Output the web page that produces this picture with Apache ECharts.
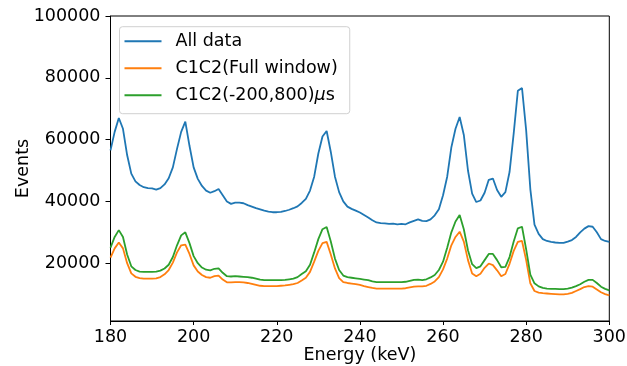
<!DOCTYPE html>
<html>
<head>
<meta charset="utf-8">
<script src="https://cdn.jsdelivr.net/npm/echarts@6/dist/echarts.min.js"></script>
<style>
html,body{margin:0;padding:0;background:#fff;}
#c{width:627px;height:366px;}
</style>
</head>
<body>
<div id="c"></div>
<script>
const energy = [180,181,182,183,184,185,186,187,188,189,190,191,192,193,194,195,196,197,198,199,
200,201,202,203,204,205,206,207,208,209,210,211,212,213,214,215,216,217,218,219,
220,221,222,223,224,225,226,227,228,229,230,231,232,233,234,235,236,237,238,239,
240,241,242,243,244,245,246,247,248,249,250,251,252,253,254,255,256,257,258,259,
260,261,262,263,264,265,266,267,268,269,270,271,272,273,274,275,276,277,278,279,
280,281,282,283,284,285,286,287,288,289,290,291,292,293,294,295,296,297,298,299,300];

const allData = [56500,62500,67000,63500,55000,49000,46500,45300,44600,44300,44200,43800,44300,45500,47500,51000,57000,62500,65800,58000,
51000,47300,45000,43500,42800,43300,44000,42000,40000,39200,39600,39600,39400,38800,38300,37800,37400,37000,36700,36500,
36500,36600,36900,37300,37800,38400,39500,40800,43500,48000,55500,61000,62800,56000,48000,43000,40000,38300,37600,37000,
36400,35600,34800,33900,33200,33000,32900,32700,32800,32600,32700,32600,33200,33700,34200,33700,33600,34200,35500,37500,
42000,48000,57500,63500,67300,61500,50000,42500,39800,40300,42800,47000,47400,43700,41500,43000,49500,62000,75800,76700,
63000,44000,32500,29500,27800,27200,26900,26700,26600,26600,27000,27500,28500,30000,31200,32000,31800,30000,27800,27200,26900];

const fullWindow = [21800,24800,26700,24800,20000,16700,15600,15200,15000,15000,15000,15100,15500,16400,17800,20200,23500,25800,26000,23000,
19300,17300,16200,15500,15300,15800,16000,14700,13800,13800,13900,13900,13800,13600,13300,13000,12700,12600,12600,12600,
12600,12700,12800,13000,13200,13600,14400,15300,17200,20500,24000,26500,26900,22800,18300,15200,13900,13600,13400,13200,
13000,12600,12300,12000,11800,11800,11800,11800,11800,11800,11800,11900,12200,12400,12500,12500,12700,13300,14100,15500,
18000,21500,25800,28500,30200,27000,21000,16700,15800,16600,18500,19900,19400,17700,15800,16500,19800,24000,26900,27200,
21000,13500,11000,10500,10300,10200,10100,10000,9900,9900,10100,10400,11000,11600,12300,12600,12400,11500,10600,10000,9600];

const window200800 = [25000,28500,30700,28500,22800,19000,17800,17300,17200,17200,17200,17300,17600,18300,19500,22000,25800,29000,30000,26500,
22300,20000,18600,17900,17700,18200,18300,16900,15800,15700,15800,15700,15600,15500,15300,15000,14700,14500,14500,14500,
14500,14500,14600,14800,15000,15500,16500,17400,19500,23500,27800,31000,31700,27000,21500,17800,16000,15500,15300,15100,
14900,14700,14500,14100,13900,13900,13900,13900,13900,13900,13900,14000,14300,14600,14700,14500,14800,15400,16200,17800,
20500,25000,30000,33500,35600,31000,24200,19700,18400,19000,21000,23000,23000,21000,18700,18800,22000,27000,31300,31800,
24500,16300,13500,12500,12000,11800,11700,11700,11600,11600,11800,12100,12600,13200,14000,14600,14600,13600,12400,11700,11200];

const seriesNames = ['All data', 'C1C2(Full window)', 'C1C2(-200,800)μs'];
const yTicks = [20000, 40000, 60000, 80000, 100000];
const xTicks = [180, 200, 220, 240, 260, 280, 300];

const colors = ['#1f77b4', '#ff7f0e', '#2ca02c'];
const FONT = 'DejaVu Sans';
const FS = 17.5;

function pairs(vals){ return energy.map((e,i)=>[e, vals[i]]); }

const chart = echarts.init(document.getElementById('c'), null, {renderer:'canvas'});
chart.setOption({
  animation: false,
  backgroundColor: '#fff',
  color: colors,
  grid: {left: 110.5, right: 17.7, top: 16, bottom: 45, show: true, borderColor: '#000', borderWidth: 1,
         backgroundColor: 'transparent', containLabel: false, outerBoundsMode: 'none'},
  xAxis: {
    type: 'value', min: 180, max: 300, interval: 20,
    name: 'Energy (keV)', nameLocation: 'middle', nameGap: 25, nameMoveOverlap: false,
    nameTextStyle: {fontFamily: FONT, fontSize: FS, color: '#000'},
    axisLine: {show: true, lineStyle: {color: '#000', width: 1}},
    axisTick: {show: true, length: 4, lineStyle: {color: '#000'}},
    axisLabel: {fontFamily: FONT, fontSize: FS, color: '#000', margin: 7, formatter: v => String(v)},
    splitLine: {show: false}
  },
  yAxis: {
    type: 'value', min: 1300, max: 100000,
    name: 'Events', nameLocation: 'middle', nameGap: 78, nameRotate: 90, nameMoveOverlap: false,
    nameTextStyle: {fontFamily: FONT, fontSize: FS, color: '#000'},
    axisLine: {show: true, lineStyle: {color: '#000', width: 1}},
    axisTick: {show: true, length: 5, customValues: yTicks, lineStyle: {color: '#000'}},
    axisLabel: {fontFamily: FONT, fontSize: FS, color: '#000', margin: 10, customValues: yTicks, formatter: v => String(v)},
    splitLine: {show: false}
  },
  legend: {
    orient: 'vertical', left: 119.5, top: 26.7,
    data: seriesNames,
    icon: 'path://M0,0H37V2H0Z M46,0L46,0.01',
    itemWidth: 46, itemHeight: 2, itemGap: 6,
    padding: [4, 12, 8, 5],
    backgroundColor: 'rgba(255,255,255,0.8)',
    borderColor: '#d0d0d0', borderWidth: 1, borderRadius: 3,
    textStyle: {fontFamily: FONT, fontSize: FS, color: '#000', lineHeight: 21,
      rich: {n: {fontFamily: FONT, fontSize: FS, color: '#000', lineHeight: 21},
             i: {fontFamily: FONT, fontSize: FS, fontStyle: 'italic', color: '#000', lineHeight: 21}}},
    formatter: function(name){
      if (name.indexOf('μ') >= 0) {
        const k = name.indexOf('μ');
        return '{n|' + name.slice(0,k) + '}{i|μ}{n|' + name.slice(k+1) + '}';
      }
      return name;
    }
  },
  series: [
    {name: seriesNames[0], type: 'line', data: pairs(allData), symbol: 'none', showSymbol: false, lineStyle: {width: 1.8}, z: 2},
    {name: seriesNames[1], type: 'line', data: pairs(fullWindow), symbol: 'none', showSymbol: false, lineStyle: {width: 1.8}, z: 3},
    {name: seriesNames[2], type: 'line', data: pairs(window200800), symbol: 'none', showSymbol: false, lineStyle: {width: 1.8}, z: 4}
  ]
});
</script>
</body>
</html>
